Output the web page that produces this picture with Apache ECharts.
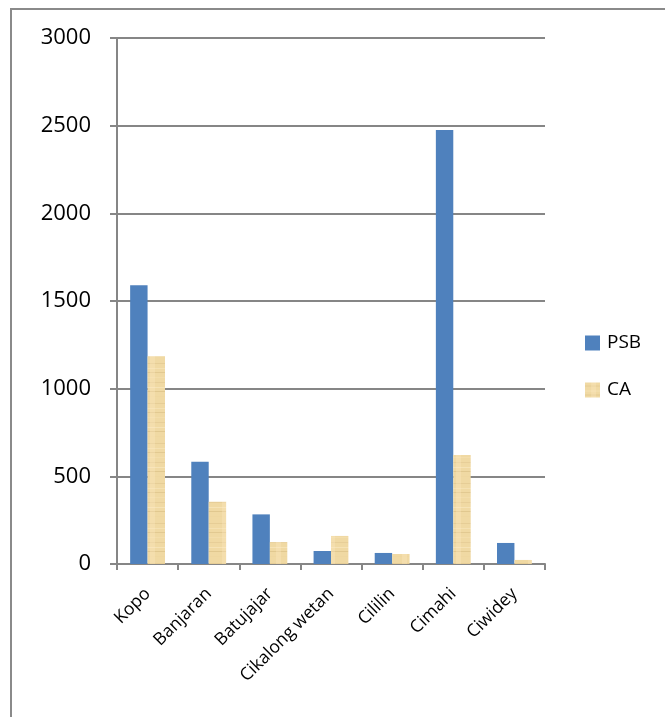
<!DOCTYPE html>
<html>
<head>
<meta charset="utf-8">
<script src="https://cdn.jsdelivr.net/npm/echarts@6/dist/echarts.min.js"></script>
<style>
  html, body { margin: 0; padding: 0; background: #fff; }
  #chart { width: 665px; height: 717px; }
</style>
</head>
<body>
<div id="chart"></div>
<script>
// ========== 数据 ==========
const categories = ['Kopo', 'Banjaran', 'Batujajar', 'Cikalong wetan', 'Cililin', 'Cimahi', 'Ciwidey'];
const psbValues = [1590, 583, 283, 74, 63, 2475, 120];
const caValues = [1185, 355, 125, 160, 57, 622, 23];
const yTicks = { min: 0, max: 3000, interval: 500 };

// ========== 纸张纹理 (CA) ==========
function makeParchment() {
  const c = document.createElement('canvas');
  c.width = 18; c.height = 40;
  const ctx = c.getContext('2d');
  ctx.fillStyle = '#f0d9a3';
  ctx.fillRect(0, 0, 18, 40);
  // 横向条纹，固定位置
  const streaks = [[3, '#e6cd96'], [8, '#f5e1b2'], [12, '#e2c991'], [17, '#f3ddab'], [22, '#e7ce98'], [27, '#f6e3b6'], [31, '#e1c88f'], [36, '#efd7a0']];
  streaks.forEach(([y, col]) => { ctx.fillStyle = col; ctx.fillRect(0, y, 18, 1); });
  ctx.fillStyle = 'rgba(255,235,200,0.3)';
  ctx.fillRect(6, 0, 5, 40);
  return c;
}
const caFill = { image: makeParchment(), repeat: 'repeat' };

const font = '"Open Sans", "Noto Sans", sans-serif';
const chart = echarts.init(document.getElementById('chart'), null, { renderer: 'canvas' });

chart.setOption({
  backgroundColor: '#fff',
  animation: false,
  grid: { left: 117, right: 120, top: 38, bottom: 153 },
  legend: {
    orient: 'vertical',
    left: 585, top: 333, padding: 0,
    itemWidth: 15, itemHeight: 15, itemGap: 27,
    icon: 'rect',
    textStyle: { fontFamily: font, fontSize: 19, lineHeight: 20, color: '#000', padding: [0, 0, 0, 2] },
    data: ['PSB', 'CA']
  },
  xAxis: {
    type: 'category',
    data: categories,
    axisLine: { lineStyle: { color: '#868686', width: 2 } },
    axisTick: { show: true, length: 6, lineStyle: { color: '#868686', width: 2 } },
    axisLabel: { rotate: 45, margin: 27, fontFamily: font, fontSize: 17.5, color: '#000', interval: 0 }
  },
  yAxis: {
    type: 'value',
    min: yTicks.min, max: yTicks.max, interval: yTicks.interval,
    axisLine: { show: true, lineStyle: { color: '#868686', width: 2 } },
    axisTick: { show: true, length: 7, lineStyle: { color: '#868686', width: 2 } },
    axisLabel: { margin: 26, fontFamily: font, fontSize: 22, color: '#000', formatter: v => String(v) },
    splitLine: { lineStyle: { color: '#868686', width: 2 } }
  },
  series: [
    {
      name: 'PSB', type: 'bar', data: psbValues,
      barGap: '0%', barCategoryGap: '43%',
      itemStyle: { color: '#4f81bd' }
    },
    {
      name: 'CA', type: 'bar', data: caValues,
      barGap: '0%', barCategoryGap: '43%',
      itemStyle: { color: caFill }
    }
  ],
  graphic: [
    { type: 'line', shape: { x1: 10, y1: 9, x2: 665, y2: 9 }, style: { stroke: '#8a8a8a', lineWidth: 2 } },
    { type: 'line', shape: { x1: 11, y1: 9, x2: 11, y2: 717 }, style: { stroke: '#8a8a8a', lineWidth: 2 } }
  ]
});
</script>
</body>
</html>
